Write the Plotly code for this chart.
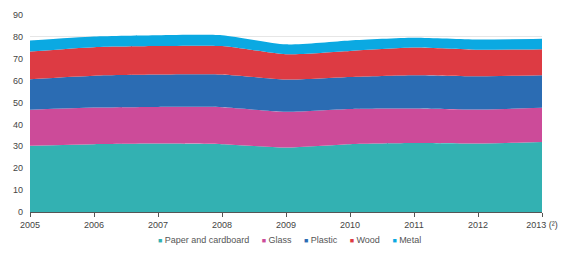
import plotly.graph_objects as go

years = [2005, 2006, 2007, 2008, 2009, 2010, 2011, 2012, 2013]
year_labels = ["2005", "2006", "2007", "2008", "2009", "2010", "2011", "2012", "2013 (²)"]

paper = [30.3, 31.0, 31.3, 31.0, 29.5, 31.0, 31.5, 31.3, 32.0]
glass = [16.4, 16.7, 16.7, 16.9, 16.3, 16.1, 15.8, 15.5, 15.6]
plastic = [14.0, 14.6, 14.8, 14.9, 14.7, 14.6, 15.2, 15.2, 14.9]
wood = [12.6, 13.0, 13.0, 13.0, 11.6, 11.9, 12.6, 12.1, 11.9]
metal = [5.1, 4.9, 5.0, 5.0, 4.5, 4.8, 4.5, 4.7, 4.7]

series = [
    ("Paper and cardboard", paper, "#33b1b2"),
    ("Glass", glass, "#cc4b99"),
    ("Plastic", plastic, "#2b6cb3"),
    ("Wood", wood, "#dd3b43"),
    ("Metal", metal, "#0ba9e2"),
]

fig = go.Figure()
for name, vals, col in series:
    fig.add_trace(go.Scatter(
        x=years, y=vals, name=name, stackgroup="one", mode="lines",
        line=dict(width=0, color=col, shape="spline", smoothing=0.6),
        fillcolor=col, showlegend=False, hoverinfo="skip",
    ))

legend_text = "&nbsp;&nbsp;&nbsp;&nbsp;&nbsp;".join(
    f'<span style="color:{col};font-size:7px">■</span>&nbsp;{name}' for name, _, col in series
)
fig.add_annotation(
    text=legend_text, xref="paper", yref="paper", x=0.506, y=-0.141,
    xanchor="center", yanchor="middle", showarrow=False,
    font=dict(size=9, color="#555"),
)

fig.update_layout(
    width=568, height=255,
    margin=dict(l=30, r=22, t=10, b=43),
    paper_bgcolor="white", plot_bgcolor="white",
    font=dict(family="Liberation Sans, Arial, sans-serif", size=9, color="#444"),
    showlegend=False,
    xaxis=dict(
        range=[2005, 2013], tickvals=years, ticktext=year_labels,
        showgrid=False, showline=True, linecolor="#555", linewidth=1,
        ticks="outside", ticklen=4, tickcolor="#555", zeroline=False,
        tickfont=dict(size=9, color="#444"),
    ),
    yaxis=dict(
        range=[0, 90], dtick=10, showgrid=True, gridcolor="#e6e6e6",
        zeroline=False, showline=False, ticks="", ticklabelstandoff=6,
        tickfont=dict(size=9, color="#444"),
    ),
)

fig.write_html("out.html")
